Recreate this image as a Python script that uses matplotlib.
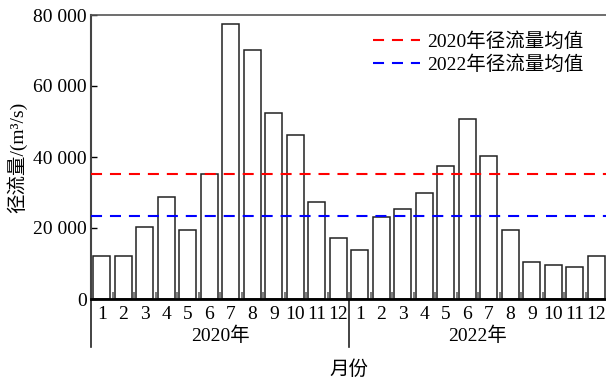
import matplotlib
matplotlib.use("Agg")
import matplotlib.pyplot as plt
from matplotlib.ticker import FuncFormatter
import numpy as np

plt.rcParams['font.family'] = ['Liberation Serif', 'Noto Sans CJK SC']
plt.rcParams['font.size'] = 14

# données (m3/s)
months = [str(m) for m in range(1, 13)]
years = ["2020年", "2022年"]
flow_2020 = [12100, 12100, 20400, 28800, 19500, 35100, 77600, 70000, 52300, 46200, 27300, 17300]
flow_2022 = [13900, 23100, 25400, 29800, 37600, 50600, 40400, 19300, 10400, 9700, 8900, 12200]
mean_2020 = 35100
mean_2022 = 23400

values = flow_2020 + flow_2022
n = len(values)
x = np.arange(n) + 0.5

fig = plt.figure(figsize=(6.06, 3.79), dpi=100)
ax = fig.add_axes([91 / 606, 80 / 379, 516 / 606, 284 / 379])

ax.bar(x, values, width=0.8, facecolor="white", edgecolor="#222222", linewidth=1.1, zorder=2)

ax.axhline(mean_2020, color="#ff0000", lw=1.5, dashes=(5.3, 3.8), label="2020年径流量均值", zorder=3)
ax.axhline(mean_2022, color="#0000ff", lw=1.5, dashes=(5.3, 3.8), label="2022年径流量均值", zorder=3)

ax.set_xlim(0, n)
ax.set_ylim(0, 80000)
ax.set_yticks([0, 20000, 40000, 60000, 80000])
ax.yaxis.set_major_formatter(FuncFormatter(lambda v, p: f"{int(v):,}".replace(",", " ")))

# graduations aux limites des barres, étiquettes des mois au centre
ax.set_xticks(np.arange(0, n + 1))
ax.set_xticklabels([])
ax.set_xticks(x, minor=True)
ax.set_xticklabels(months + months, minor=True)
ax.tick_params(axis="x", which="major", direction="in", length=5, width=1.2, color="#666666")
ax.tick_params(axis="x", which="minor", length=0, pad=5)
ax.tick_params(axis="y", direction="in", length=4, width=1, pad=3)

ax.spines["right"].set_visible(False)
ax.spines["top"].set_color("#555555")
ax.spines["top"].set_linewidth(1.2)
ax.spines["left"].set_color("#444444")
ax.spines["left"].set_linewidth(1.5)
ax.spines["bottom"].set_linewidth(2)

# séparation des années sous l'axe
trans = ax.get_xaxis_transform()
for xs in [0, 12]:
    ax.plot([xs, xs], [0, -0.169], transform=trans, color="#222222", lw=1.2, clip_on=False)
for i, yr in enumerate(years):
    ax.text(6 + 12 * i, -0.13, yr, transform=trans, ha="center", va="center")

ax.text(12, -0.25, "月份", transform=trans, ha="center", va="center")
ax.set_ylabel("径流量/(m³/s)")
ax.yaxis.set_label_coords(-0.124, 0.5)

ax.legend(loc="upper left", bbox_to_anchor=(0.524, 0.979), frameon=False,
          handlelength=2.4, handletextpad=0.4, labelspacing=0.2, borderaxespad=0.2)

fig.savefig("out.png", dpi=100)
